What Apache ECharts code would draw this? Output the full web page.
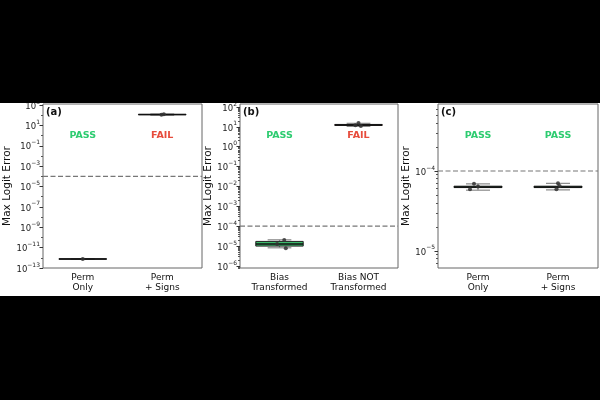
<!DOCTYPE html>
<html>
<head>
<meta charset="utf-8">
<script src="https://cdn.jsdelivr.net/npm/echarts@6/dist/echarts.min.js"></script>
<style>
  html, body { margin: 0; padding: 0; background: #000; }
  #wrap { position: relative; width: 600px; height: 400px; background: #000; }
  #chart { position: absolute; left: 0; top: 103px; width: 600px; height: 193px; background: #fff; }
</style>
</head>
<body>
<div id="wrap"><div id="chart"></div></div>
<script>
// categories per panel
let catsA = ["Perm\nOnly", "Perm\n+ Signs"];
let catsB = ["Bias\nTransformed", "Bias NOT\nTransformed"];
let catsC = ["Perm\nOnly", "Perm\n+ Signs"];

// box stats per category: [low whisker, q1, median, q3, high whisker]
let boxA = [[7.3e-13, 7.5e-13, 7.6e-13, 7.8e-13, 8.0e-13], [100, 112, 115, 118, 130]];
let boxB = [[8.2e-6, 1.0e-5, 1.26e-5, 1.72e-5, 2.07e-5], [10.5, 11.8, 12.5, 13.2, 15]];
let boxC = [[5.75e-5, 6.2e-5, 6.3e-5, 6.45e-5, 6.9e-5], [5.8e-5, 6.2e-5, 6.3e-5, 6.45e-5, 7.0e-5]];

// individual runs: [category, value, jitter]
let ptsA = [[0, 7.7e-13, 0.0], [1, 122, 0.02], [1, 112, -0.01]];
let ptsB = [[0, 2.0e-5, 0.06], [0, 1.26e-5, -0.03], [0, 7.9e-6, 0.08], [1, 15.5, 0.0], [1, 12, -0.04], [1, 11, 0.03]];
let ptsC = [[0, 6.9e-5, -0.05], [0, 6.4e-5, 0.0], [0, 5.9e-5, -0.1], [1, 7.0e-5, 0.0], [1, 6.5e-5, 0.02], [1, 5.9e-5, -0.02]];

let verdicts = [["PASS", "FAIL"], ["PASS", "FAIL"], ["PASS", "PASS"]];
let panelTags = ["(a)", "(b)", "(c)"];
let threshold = 1e-4;

// y ranges and labelled decades
let yMin = [1e-13, 7.9e-7, 6.1e-6];
let yMax = [1.26e3, 1.41e2, 6.9e-4];
let majorExp = [[-13, -11, -9, -7, -5, -3, -1, 1, 3], [-6, -5, -4, -3, -2, -1, 0, 1, 2], [-5, -4]];

const FONT = "DejaVu Sans";
const PASS_COLOR = "#2ecc71";
const FAIL_COLOR = "#e74c3c";
const grids = [
    {left: 43, top: 1, width: 159, height: 164},
    {left: 240, top: 1, width: 158, height: 164},
    {left: 438, top: 1, width: 160, height: 164}
];
const nameGaps = [29, 26, 25];

function minorTicks(i) {
    let out = [];
    let lo = Math.floor(Math.log10(yMin[i])), hi = Math.ceil(Math.log10(yMax[i]));
    for (let e = lo; e <= hi; e++) {
        if (i === 0) {
            if (Math.abs(e % 2) === 0) out.push(Math.pow(10, e));
        } else {
            for (let k = 2; k <= 9; k++) out.push(k * Math.pow(10, e));
        }
    }
    return out.filter(v => v >= yMin[i] && v <= yMax[i]);
}

function supLabel(v) {
    let e = Math.round(Math.log10(v));
    let s = e < 0 ? "\u2212" + (-e) : String(e);
    return "{b|10}{s|" + s + "}";
}

function makeBoxRenderer(verdict) {
    return function (params, api) {
        let c = api.value(0);
        let pLow = api.coord([c, api.value(1)]);
        let pQ1 = api.coord([c, api.value(2)]);
        let pMed = api.coord([c, api.value(3)]);
        let pQ3 = api.coord([c, api.value(4)]);
        let pHigh = api.coord([c, api.value(5)]);
        let band = api.size([1, 0])[0];
        let w = band * 0.6;
        let cap = w / 2;
        let x = pMed[0];
        let fill = verdict[c] === "PASS" ? "#3dbb6c" : "#d9493a";
        let whisker = {stroke: "#8a8a8a", lineWidth: 1.2};
        return {
            type: "group",
            children: [
                {type: "line", shape: {x1: x, y1: pQ1[1], x2: x, y2: pLow[1]}, style: whisker},
                {type: "line", shape: {x1: x, y1: pQ3[1], x2: x, y2: pHigh[1]}, style: whisker},
                {type: "line", shape: {x1: x - cap / 2, y1: pLow[1], x2: x + cap / 2, y2: pLow[1]}, style: whisker},
                {type: "line", shape: {x1: x - cap / 2, y1: pHigh[1], x2: x + cap / 2, y2: pHigh[1]}, style: whisker},
                {type: "rect", shape: {x: x - w / 2, y: pQ3[1], width: w, height: pQ1[1] - pQ3[1]},
                    style: {fill: fill, stroke: "#222", lineWidth: 1}},
                {type: "line", shape: {x1: x - w / 2, y1: pMed[1], x2: x + w / 2, y2: pMed[1]},
                    style: {stroke: "#111", lineWidth: 1.5}}
            ]
        };
    };
}

function renderPoint(params, api) {
    let p = api.coord([api.value(0), api.value(1)]);
    let band = api.size([1, 0])[0];
    return {
        type: "circle",
        shape: {cx: p[0] + api.value(2) * band, cy: p[1], r: 2},
        style: {fill: "#333", opacity: 0.85}
    };
}

// horizontal dashed line across the whole plot area at a y value
function renderThreshold(params, api) {
    let y = api.coord([0, api.value(1)])[1];
    let cs = params.coordSys;
    return {
        type: "line",
        shape: {x1: cs.x, y1: y, x2: cs.x + cs.width, y2: y},
        style: {stroke: "#777", lineWidth: 1.2, lineDash: [5, 2.5]}
    };
}

let chart = echarts.init(document.getElementById("chart"));
let cats = [catsA, catsB, catsC];
let boxes = [boxA, boxB, boxC];
let pts = [ptsA, ptsB, ptsC];

let xAxes = [], yAxes = [], series = [];
for (let i = 0; i < 3; i++) {
    let majors = majorExp[i].map(e => Math.pow(10, e));
    xAxes.push({
        type: "category", gridIndex: i, data: cats[i],
        axisLine: {show: false},
        axisTick: {alignWithLabel: true, length: 3.5, lineStyle: {color: "#333"}},
        axisLabel: {interval: 0, fontSize: 9, lineHeight: 10.5, color: "#111", fontFamily: FONT, margin: 4}
    });
    yAxes.push({
        type: "log", logBase: 10, gridIndex: i, position: "left", min: yMin[i], max: yMax[i],
        name: "Max Logit Error", nameLocation: "middle", nameGap: nameGaps[i],
        nameTextStyle: {fontSize: 10.5, fontFamily: FONT, color: "#111"},
        axisLine: {show: false}, splitLine: {show: false},
        axisTick: {show: true, length: 3.5, lineStyle: {color: "#333"}, customValues: majors},
        axisLabel: {
            customValues: majors, margin: 3, formatter: supLabel,
            rich: {
                b: {fontSize: 8.5, fontFamily: FONT, color: "#222", lineHeight: 12, verticalAlign: "bottom"},
                s: {fontSize: 6, fontFamily: FONT, color: "#222", verticalAlign: "top"}
            }
        }
    });
    yAxes.push({
        type: "log", logBase: 10, gridIndex: i, position: "left", offset: 0, min: yMin[i], max: yMax[i],
        axisLine: {show: false}, splitLine: {show: false}, axisLabel: {show: false},
        axisTick: {show: true, length: 2, lineStyle: {color: "#555"}, customValues: minorTicks(i)}
    });
    series.push({
        type: "custom", xAxisIndex: i, yAxisIndex: 2 * i, z: 1,
        renderItem: renderThreshold,
        encode: {x: 0, y: 1},
        data: [[0, threshold]]
    });
    series.push({
        type: "custom", xAxisIndex: i, yAxisIndex: 2 * i, z: 2,
        renderItem: makeBoxRenderer(verdicts[i]),
        encode: {x: 0, y: [1, 2, 3, 4, 5]},
        data: boxes[i].map((b, j) => [j].concat(b))
    });
    series.push({
        type: "custom", xAxisIndex: i, yAxisIndex: 2 * i, z: 3,
        renderItem: renderPoint,
        encode: {x: 0, y: 1},
        data: pts[i]
    });
}

chart.setOption({
    animation: false,
    grid: grids.map(g => Object.assign({
        show: true, borderColor: "#666", borderWidth: 1, backgroundColor: "#fff",
        containLabel: false, outerBoundsMode: "none"
    }, g)),
    xAxis: xAxes,
    yAxis: yAxes,
    series: series
});

// panel tags and PASS/FAIL annotations in axes fraction
let graphics = [];
for (let i = 0; i < 3; i++) {
    let g = grids[i];
    graphics.push({
        type: "text", x: g.left + 3, y: g.top + g.height * 0.05,
        style: {text: panelTags[i], font: "bold 10px " + FONT, fill: "#111", align: "left", verticalAlign: "middle"}
    });
    for (let j = 0; j < 2; j++) {
        let px = chart.convertToPixel({xAxisIndex: i}, j);
        graphics.push({
            type: "text", x: px, y: g.top + g.height * 0.195,
            style: {
                text: verdicts[i][j], font: "bold 9.5px " + FONT,
                fill: verdicts[i][j] === "PASS" ? PASS_COLOR : FAIL_COLOR,
                align: "center", verticalAlign: "middle"
            }
        });
    }
}
chart.setOption({graphic: graphics});
</script>
</body>
</html>
